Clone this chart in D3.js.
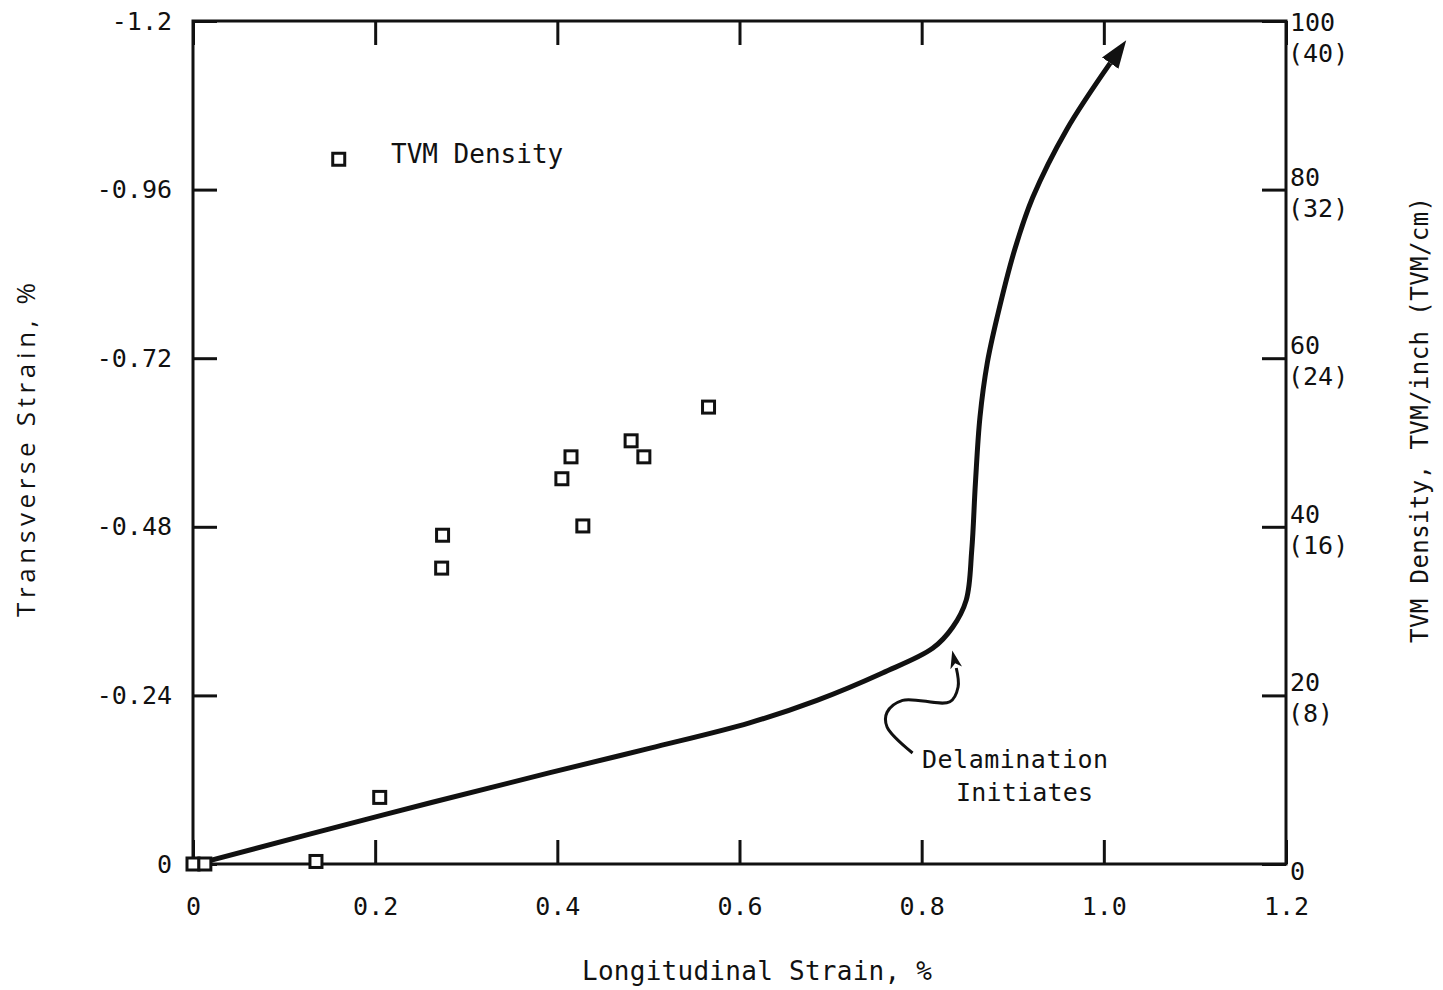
<!DOCTYPE html>
<html>
<head>
<meta charset="utf-8">
<script src="https://cdn.jsdelivr.net/npm/d3@7"></script>
<style>
  html, body { margin: 0; padding: 0; background: #fff; }
  svg { display: block; }
  text { font-family: "DejaVu Sans Mono", monospace; fill: #111; }
</style>
</head>
<body>
<svg id="chart" width="1443" height="990"></svg>
<script>
// ---- data ----
const xTicks = [0, 0.2, 0.4, 0.6, 0.8, 1.0, 1.2];
const xTickLabels = ["0", "0.2", "0.4", "0.6", "0.8", "1.0", "1.2"];
const yTicks = [0, -0.24, -0.48, -0.72, -0.96, -1.2];
const yTickLabels = ["0", "-0.24", "-0.48", "-0.72", "-0.96", "-1.2"];
const rTicks = [0, 20, 40, 60, 80, 100];
const rTickLabelsInch = ["0", "20", "40", "60", "80", "100"];
const rTickLabelsCm = ["", "(8)", "(16)", "(24)", "(32)", "(40)"];

// TVM density points (longitudinal strain %, TVM/inch)
const tvmStrain  = [0, 0.013, 0.135, 0.205, 0.273, 0.274, 0.405, 0.415, 0.428, 0.481, 0.495, 0.566];
const tvmDensity = [0, 0, 0.3, 7.9, 35.1, 39.0, 45.7, 48.3, 40.1, 50.2, 48.3, 54.2];

// Transverse strain curve (longitudinal %, transverse %)
const curveLong  = [0.013, 0.209, 0.392, 0.502, 0.611, 0.685, 0.757, 0.812, 0.834, 0.849, 0.855, 0.859, 0.864, 0.872, 0.883, 0.902, 0.922, 0.959, 1.007];
const curveTrans = [-0.003, -0.070, -0.130, -0.165, -0.201, -0.233, -0.272, -0.307, -0.337, -0.376, -0.447, -0.542, -0.636, -0.713, -0.779, -0.874, -0.949, -1.045, -1.140];

// "Delamination Initiates" pointer path (data coords)
const noteLong  = [0.790, 0.762, 0.762, 0.779, 0.831, 0.840, 0.838];
const noteTrans = [-0.158, -0.195, -0.216, -0.233, -0.231, -0.252, -0.279];

// legend
const legendStrain = 0.160, legendDensity = 83.6;

// ---- scales ----
const svg = d3.select("#chart");
svg.append("rect").attr("width", 1443).attr("height", 990).attr("fill", "#fff");

const x = d3.scaleLinear().domain([0, 1.2]).range([193, 1286]);
const y = d3.scaleLinear().domain([0, -1.2]).range([864, 21]);
const yR = d3.scaleLinear().domain([0, 100]).range([864, 21]);

const defs = svg.append("defs");
defs.append("marker").attr("id", "bigArrow")
  .attr("viewBox", "0 0 28 20").attr("refX", 0).attr("refY", 10)
  .attr("markerWidth", 28).attr("markerHeight", 20)
  .attr("markerUnits", "userSpaceOnUse").attr("orient", "auto")
  .append("path").attr("d", "M0,0 L28,10 L0,20 Z").attr("fill", "#111");
defs.append("marker").attr("id", "smallArrow")
  .attr("viewBox", "0 0 18 12").attr("refX", 0).attr("refY", 6)
  .attr("markerWidth", 18).attr("markerHeight", 12)
  .attr("markerUnits", "userSpaceOnUse").attr("orient", "auto")
  .append("path").attr("d", "M0,0 L18,6 L0,12 L5,6 Z").attr("fill", "#111");

const tickStyle = g => {
  g.select(".domain").remove();
  g.selectAll(".tick line").attr("stroke", "#111").attr("stroke-width", 3);
  g.selectAll(".tick text").style("font-family", "DejaVu Sans Mono, monospace").attr("fill", "#111");
};

// bottom axis
svg.append("g").attr("transform", "translate(0,864)")
  .call(d3.axisBottom(x).tickValues(xTicks).tickSize(-24).tickPadding(33)
        .tickFormat((d, i) => xTickLabels[i]))
  .call(tickStyle)
  .call(g => g.selectAll(".tick text").attr("font-size", 25));
// top axis (ticks only)
svg.append("g").attr("transform", "translate(0,21)")
  .call(d3.axisTop(x).tickValues(xTicks).tickSize(-24).tickFormat(""))
  .call(tickStyle);
// left axis
svg.append("g").attr("transform", "translate(193,0)")
  .call(d3.axisLeft(y).tickValues(yTicks).tickSize(-24).tickPadding(21)
        .tickFormat((d, i) => yTickLabels[i]))
  .call(tickStyle)
  .call(g => g.selectAll(".tick text").attr("font-size", 25));
// right axis
svg.append("g").attr("transform", "translate(1286,0)")
  .call(d3.axisRight(yR).tickValues(rTicks).tickSize(-24).tickFormat(""))
  .call(tickStyle);
rTicks.forEach((t, i) => {
  const t1 = svg.append("text").attr("x", 1290).attr("font-size", 25);
  if (rTickLabelsCm[i]) {
    const base = Math.max(yR(t) - 4, 31);
    t1.attr("y", base).text(rTickLabelsInch[i]);
    svg.append("text").attr("x", 1288).attr("y", base + 31).attr("font-size", 25).text(rTickLabelsCm[i]);
  } else {
    t1.attr("y", yR(t) + 16).text(rTickLabelsInch[i]);
  }
});

// frame
svg.append("rect").attr("x", x(0)).attr("y", y(-1.2))
  .attr("width", x(1.2) - x(0)).attr("height", y(0) - y(-1.2))
  .attr("fill", "none").attr("stroke", "#111").attr("stroke-width", 3);

// curve
const curvePts = curveLong.map((d, i) => [d, curveTrans[i]]);
svg.append("path").datum(curvePts)
  .attr("d", d3.line().x(d => x(d[0])).y(d => y(d[1])).curve(d3.curveCatmullRom.alpha(0.5)))
  .attr("fill", "none").attr("stroke", "#111").attr("stroke-width", 5)
  .attr("stroke-linejoin", "round")
  .attr("marker-end", "url(#bigArrow)");

// annotation pointer
const notePts = noteLong.map((d, i) => [d, noteTrans[i]]);
svg.append("path").datum(notePts)
  .attr("d", d3.line().x(d => x(d[0])).y(d => y(d[1])).curve(d3.curveCatmullRom.alpha(0.5)))
  .attr("fill", "none").attr("stroke", "#111").attr("stroke-width", 3)
  .attr("marker-end", "url(#smallArrow)");

svg.append("text").attr("x", 922).attr("y", 768).attr("font-size", 25)
  .attr("letter-spacing", 0.5).text("Delamination");
svg.append("text").attr("x", 956).attr("y", 801).attr("font-size", 25)
  .attr("letter-spacing", 0.2).text("Initiates");

// squares
const sq = 12;
svg.append("g").selectAll("rect").data(tvmStrain.map((d, i) => [d, tvmDensity[i]]))
  .join("rect")
  .attr("x", d => x(d[0]) - sq / 2).attr("y", d => yR(d[1]) - sq / 2)
  .attr("width", sq).attr("height", sq)
  .attr("fill", "#fff").attr("stroke", "#111").attr("stroke-width", 3);

// legend
svg.append("rect").attr("x", x(legendStrain) - sq / 2).attr("y", yR(legendDensity) - sq / 2)
  .attr("width", sq).attr("height", sq)
  .attr("fill", "#fff").attr("stroke", "#111").attr("stroke-width", 3);
svg.append("text").attr("x", 391).attr("y", 163).attr("font-size", 26).text("TVM Density");

// axis titles
svg.append("text").attr("x", 757).attr("y", 980).attr("text-anchor", "middle")
  .attr("font-size", 26).attr("textLength", 350).text("Longitudinal Strain, %");
svg.append("text").attr("transform", "translate(35,450) rotate(-90)")
  .attr("text-anchor", "middle").attr("font-size", 26)
  .style("font-family", "Open Sans, DejaVu Sans, sans-serif")
  .attr("textLength", 334).text("Transverse Strain, %");
svg.append("text").attr("transform", "translate(1428,420) rotate(-90)")
  .attr("text-anchor", "middle").attr("font-size", 24)
  .attr("textLength", 446).text("TVM Density, TVM/inch (TVM/cm)");
</script>
</body>
</html>
